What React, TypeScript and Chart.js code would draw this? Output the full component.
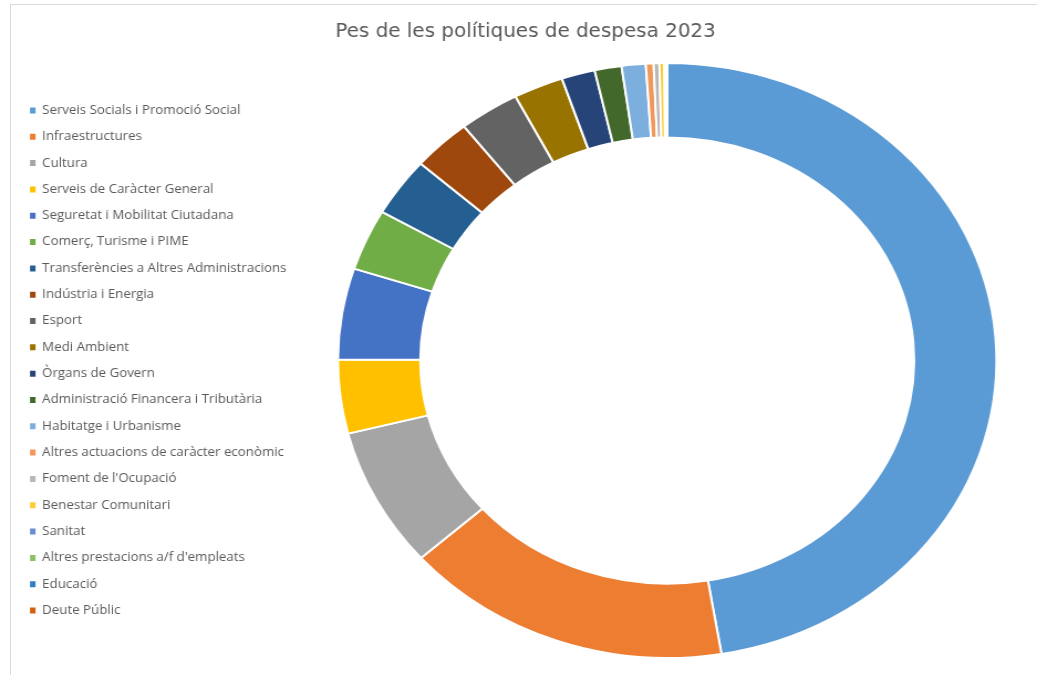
import React, { useEffect, useRef } from "react";
import { Chart, registerables } from "chart.js";

Chart.register(...registerables);

const TITLE = "Pes de les polítiques de despesa 2023";

const categories = [
  "Serveis Socials i Promoció Social",
  "Infraestructures",
  "Cultura",
  "Serveis de Caràcter General",
  "Seguretat i Mobilitat Ciutadana",
  "Comerç, Turisme i PIME",
  "Transferències a Altres Administracions",
  "Indústria i Energia",
  "Esport",
  "Medi Ambient",
  "Òrgans de Govern",
  "Administració Financera i Tributària",
  "Habitatge i Urbanisme",
  "Altres actuacions de caràcter econòmic",
  "Foment de l'Ocupació",
  "Benestar Comunitari",
  "Sanitat",
  "Altres prestacions a/f d'empleats",
  "Educació",
  "Deute Públic",
];

// share of total spending (%)
const shares = [
  47.36, 16.08, 7.6, 4.01, 4.94, 3.33, 3.19, 2.89, 2.97, 2.44, 1.64, 1.32,
  1.18, 0.38, 0.28, 0.24, 0.035, 0.035, 0.035, 0.035,
];

const colors = [
  "#5B9BD5",
  "#ED7D31",
  "#A5A5A5",
  "#FFC000",
  "#4472C4",
  "#70AD47",
  "#255E91",
  "#9E480E",
  "#636363",
  "#997300",
  "#264478",
  "#43682B",
  "#7CAFDD",
  "#F1975A",
  "#B7B7B7",
  "#FFCD33",
  "#698ED0",
  "#8CC168",
  "#327DC2",
  "#D26012",
];

const CANVAS_W = 937;
const CANVAS_H = 675;
const STRETCH = 1037 / CANVAS_W;

export default function App() {
  const ref = useRef<HTMLCanvasElement | null>(null);

  useEffect(() => {
    if (!ref.current) return;
    const defaultGen = (Chart as any).overrides.doughnut.plugins.legend.labels
      .generateLabels;
    const chart = new Chart(ref.current, {
      type: "doughnut",
      data: {
        labels: categories,
        datasets: [
          {
            data: shares,
            backgroundColor: colors,
            borderColor: "#ffffff",
            borderWidth: 2,
          },
        ],
      },
      options: {
        responsive: false,
        animation: false,
        devicePixelRatio: 1,
        cutout: "75%",
        layout: { padding: { left: 12.8, right: 0, top: 0, bottom: 16 } },
        plugins: {
          tooltip: { enabled: false },
          title: {
            display: true,
            text: TITLE,
            color: "#595959",
            font: {
              family: "'Liberation Sans Narrow', 'DejaVu Sans Condensed', Lato, sans-serif",
              size: 20,
              weight: "normal",
            },
            padding: { top: 20, bottom: 18 },
          },
          legend: {
            position: "left",
            align: "center",
            fullSize: false,
            maxWidth: 258,
            labels: {
              boxWidth: 5,
              boxHeight: 6,
              padding: 14.32,
              color: "#595959",
              font: { family: "'Open Sans', sans-serif", size: 12 },
              generateLabels: (c: any) =>
                defaultGen(c).map((l: any) => ({
                  ...l,
                  lineWidth: 0,
                  strokeStyle: "rgba(0,0,0,0)",
                })),
            },
          },
        },
      },
    });
    return () => chart.destroy();
  }, []);

  return (
    <div
      style={{
        position: "fixed",
        left: 0,
        top: 0,
        width: 1037,
        height: 675,
        overflow: "hidden",
        background: "#ffffff",
      }}
    >
      <div
        style={{
          position: "absolute",
          left: 10,
          top: 4,
          width: 1100,
          height: 700,
          borderLeft: "1px solid #d9d9d9",
          borderTop: "1px solid #d9d9d9",
        }}
      />
      <canvas
        ref={ref}
        width={CANVAS_W}
        height={CANVAS_H}
        style={{
          position: "absolute",
          left: 0,
          top: 0,
          width: CANVAS_W,
          height: CANVAS_H,
          transform: `scaleX(${STRETCH})`,
          transformOrigin: "left top",
        }}
      />
    </div>
  );
}
